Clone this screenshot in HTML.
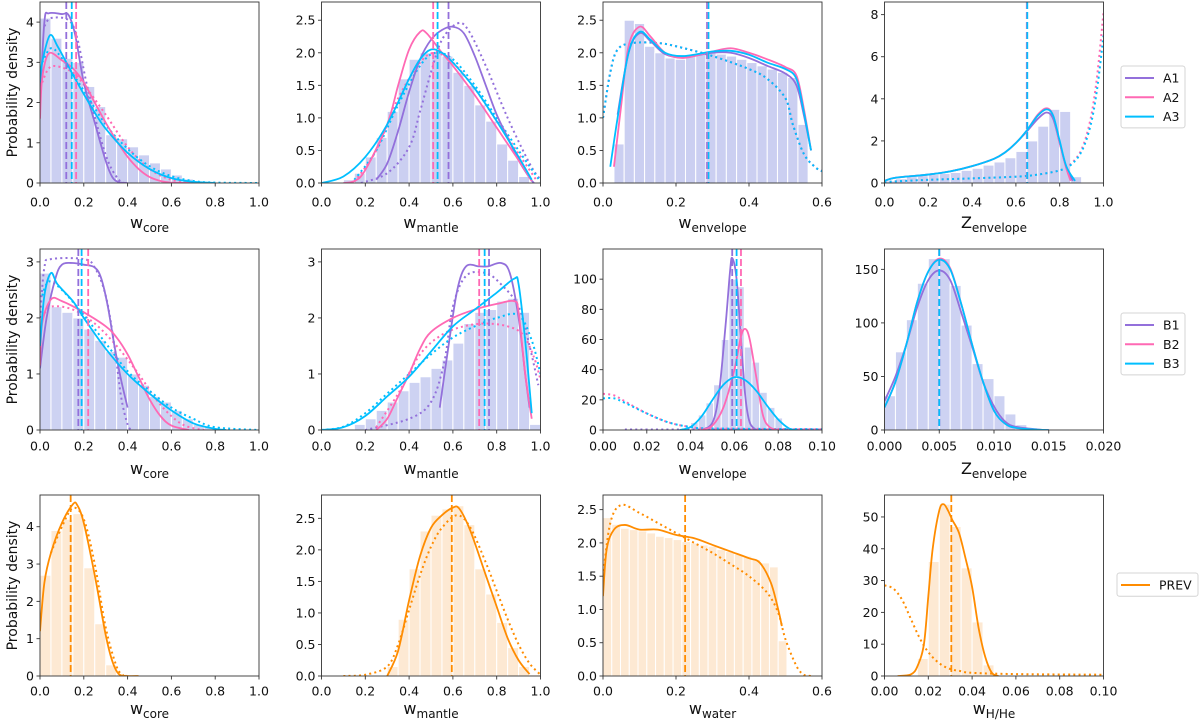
<!DOCTYPE html>
<html><head><meta charset="utf-8">
<style>
body{margin:0;background:#fff;}
svg{display:block;font-family:"DejaVu Sans","Liberation Sans",sans-serif;}
</style></head>
<body>
<svg id="fig" width="1200" height="722" viewBox="0 0 1200 722"></svg>
<script>
// ---------- DATA ----------
// Panel 1: w_core (A)
const p1_A1=[[0,2.0],[0.02,4.0],[0.04,4.22],[0.1,4.2],[0.13,4.18],[0.16,3.7],[0.2,2.5],[0.25,1.5],[0.3,0.55],[0.33,0.15],[0.36,0.02],[0.4,0]];
const p1_A1d=[[0.02,3.9],[0.05,4.1],[0.13,4.05],[0.17,3.6],[0.22,2.3],[0.3,0.7],[0.36,0.08],[0.4,0]];
const p1_A2=[[0,1.6],[0.01,2.6],[0.04,3.22],[0.1,3.05],[0.15,2.85],[0.2,2.5],[0.25,2.0],[0.3,1.5],[0.35,1.05],[0.4,0.65],[0.45,0.35],[0.5,0.15],[0.55,0.05],[0.6,0.01],[0.7,0]];
const p1_A2d=[[0.01,2.5],[0.04,2.85],[0.08,2.9],[0.15,2.75],[0.2,2.45],[0.3,1.7],[0.4,0.9],[0.5,0.35],[0.6,0.08],[0.7,0.01]];
const p1_A3=[[0,2.5],[0.01,3.0],[0.045,3.67],[0.08,3.4],[0.12,3.0],[0.18,2.4],[0.25,1.75],[0.3,1.35],[0.4,0.75],[0.5,0.35],[0.6,0.12],[0.7,0.03],[0.8,0]];
const p1_A3d=[[0.01,3.0],[0.05,3.35],[0.1,3.1],[0.2,2.3],[0.3,1.45],[0.4,0.85],[0.5,0.42],[0.6,0.17],[0.7,0.05],[0.8,0.01],[1,0]];
const p1_med=[0.12,0.165,0.145];
const p1_hist=[4.1,3.6,3.1,3.0,2.4,1.9,1.2,1.1,0.9,0.7,0.5,0.35,0.2,0.1,0.05,0.02,0,0,0,0];
// Panel 2: w_mantle (A)
const p2_A1=[[0.25,0.05],[0.3,0.3],[0.35,0.8],[0.4,1.4],[0.45,1.9],[0.5,2.2],[0.55,2.35],[0.6,2.4],[0.65,2.3],[0.7,1.95],[0.75,1.5],[0.8,1.05],[0.85,0.7],[0.9,0.35],[0.95,0.08],[0.97,0]];
const p2_A1d=[[0.18,0],[0.3,0.15],[0.4,0.55],[0.45,1.1],[0.5,1.7],[0.55,2.2],[0.62,2.45],[0.67,2.35],[0.75,1.8],[0.85,1.0],[0.95,0.3],[1.0,0.05]];
const p2_A2=[[0.1,0],[0.15,0.03],[0.2,0.2],[0.3,0.9],[0.35,1.5],[0.4,2.05],[0.45,2.32],[0.48,2.3],[0.55,2.0],[0.6,1.8],[0.7,1.35],[0.8,0.85],[0.9,0.35],[0.96,0.03]];
const p2_A2d=[[0.15,0.02],[0.25,0.5],[0.35,1.3],[0.45,1.85],[0.52,2.0],[0.6,1.85],[0.7,1.45],[0.8,0.95],[0.9,0.45],[0.98,0.05]];
const p2_A3=[[0,0],[0.1,0.1],[0.2,0.4],[0.3,0.9],[0.4,1.6],[0.45,1.9],[0.5,2.05],[0.55,2.0],[0.6,1.85],[0.7,1.45],[0.8,0.95],[0.9,0.4],[0.96,0.05]];
const p2_A3d=[[0.15,0.05],[0.25,0.5],[0.35,1.2],[0.45,1.8],[0.52,2.0],[0.6,1.9],[0.7,1.5],[0.8,1.0],[0.9,0.5],[1.0,0.02]];
const p2_med=[0.58,0.51,0.53];
const p2_hist=[0,0,0.05,0.15,0.4,0.7,1.1,1.6,1.9,2.0,2.0,1.95,1.7,1.5,1.2,0.95,0.6,0.35,0.1,0];
// Panel 3: w_envelope (A)
const p3_A1=[[0.04,1.05],[0.07,2.0],[0.1,2.3],[0.13,2.18],[0.17,1.98],[0.22,1.93],[0.3,2.0],[0.35,2.0],[0.4,1.92],[0.45,1.8],[0.5,1.68],[0.53,1.5],[0.55,1.05],[0.57,0.5]];
const p3_A2=[[0.03,0.25],[0.05,1.2],[0.07,2.1],[0.1,2.4],[0.13,2.25],[0.17,2.0],[0.22,1.92],[0.3,2.02],[0.35,2.07],[0.4,2.0],[0.45,1.9],[0.5,1.78],[0.53,1.65],[0.55,1.15],[0.57,0.5]];
const p3_A3=[[0.02,0.25],[0.04,1.0],[0.07,2.0],[0.1,2.32],[0.13,2.2],[0.17,2.0],[0.22,1.95],[0.3,2.02],[0.35,2.03],[0.4,1.97],[0.45,1.85],[0.5,1.75],[0.53,1.6],[0.55,1.1],[0.57,0.5]];
const p3_prior=[[0,1.0],[0.02,1.7],[0.04,2.05],[0.08,2.15],[0.15,2.15],[0.2,2.1],[0.3,1.95],[0.4,1.75],[0.45,1.6],[0.5,1.3],[0.52,0.9],[0.55,0.45],[0.58,0.25],[0.6,0.18]];
const p3_med=[0.285,0.287,0.289];
const p3_hist=[0.6,2.5,2.45,2.1,2.0,1.92,1.9,1.95,2.0,2.0,1.98,1.95,1.9,1.85,1.8,1.75,1.7,1.62,0.9];
// Panel 4: Z_envelope (A)
const p4_A1=[[0,0.1],[0.05,0.25],[0.2,0.4],[0.3,0.55],[0.4,0.8],[0.5,1.15],[0.55,1.45],[0.6,1.9],[0.65,2.45],[0.7,3.05],[0.74,3.35],[0.77,3.05],[0.8,1.9],[0.83,0.75],[0.86,0.1]];
const p4_A2=[[0,0.1],[0.05,0.25],[0.2,0.4],[0.3,0.55],[0.4,0.8],[0.5,1.15],[0.55,1.45],[0.6,1.9],[0.65,2.5],[0.7,3.25],[0.74,3.55],[0.77,3.2],[0.8,1.9],[0.83,0.7],[0.85,0.1]];
const p4_A3=[[0,0.1],[0.05,0.25],[0.2,0.4],[0.3,0.55],[0.4,0.8],[0.5,1.15],[0.55,1.45],[0.6,1.9],[0.65,2.5],[0.7,3.2],[0.74,3.5],[0.77,3.2],[0.8,2.0],[0.83,0.8],[0.87,0.1]];
const p4_A2d=[[0,0.05],[0.2,0.15],[0.4,0.22],[0.6,0.3],[0.7,0.4],[0.8,0.6],[0.85,0.9],[0.9,1.6],[0.94,3.0],[0.97,5.0],[1.0,8.1]];
const p4_A3d=[[0,0.05],[0.2,0.15],[0.4,0.22],[0.6,0.3],[0.7,0.4],[0.8,0.6],[0.85,0.85],[0.9,1.5],[0.94,2.7],[0.97,4.4],[1.0,7.0]];
const p4_med=[0.65,0.65,0.652];
const p4_hist=[0.1,0.2,0.3,0.35,0.4,0.45,0.5,0.6,0.7,0.85,1.0,1.2,1.5,2.0,2.7,3.5,3.4,0.3,0,0];
// Panel 5: w_core (B)
const p5_B1=[[0,1.1],[0.03,2.0],[0.07,2.7],[0.1,2.95],[0.15,2.98],[0.2,2.95],[0.25,2.9],[0.28,2.7],[0.31,2.2],[0.34,1.5],[0.37,0.9],[0.4,0.4]];
const p5_B1d=[[0,2.0],[0.02,2.9],[0.05,3.05],[0.2,3.05],[0.25,2.9],[0.3,2.4],[0.34,1.5],[0.37,0.6],[0.4,0.1],[0.42,0]];
const p5_B2=[[0,1.15],[0.01,1.9],[0.05,2.33],[0.1,2.3],[0.2,2.1],[0.3,1.85],[0.35,1.65],[0.4,1.35],[0.45,0.95],[0.5,0.55],[0.55,0.25],[0.6,0.08],[0.68,0]];
const p5_B2d=[[0.01,2.0],[0.05,2.2],[0.15,2.15],[0.25,1.9],[0.35,1.5],[0.45,1.0],[0.55,0.45],[0.65,0.1],[0.75,0]];
const p5_B3=[[0,1.5],[0.02,2.4],[0.05,2.8],[0.08,2.6],[0.15,2.3],[0.2,2.0],[0.3,1.45],[0.4,1.0],[0.5,0.65],[0.6,0.35],[0.7,0.12],[0.8,0.02],[0.85,0]];
const p5_B3d=[[0.01,2.4],[0.04,2.65],[0.1,2.5],[0.2,2.05],[0.3,1.55],[0.4,1.05],[0.5,0.7],[0.6,0.4],[0.7,0.2],[0.8,0.05],[1,0]];
const p5_med=[0.175,0.22,0.19];
const p5_hist=[2.8,2.2,2.1,2.0,1.8,1.6,1.4,1.3,1.0,0.8,0.6,0.5,0.35,0.2,0.1,0.05,0,0,0,0];
// Panel 6: w_mantle (B)
const p6_B1=[[0.54,0.4],[0.58,1.5],[0.62,2.5],[0.66,2.92],[0.72,2.92],[0.76,2.92],[0.82,2.98],[0.86,2.8],[0.9,2.0],[0.93,1.0],[0.95,0.4]];
const p6_B1d=[[0.2,0],[0.4,0.2],[0.5,0.5],[0.56,1.2],[0.6,2.2],[0.66,2.75],[0.75,2.8],[0.82,2.6],[0.9,2.2],[0.95,1.5],[0.99,0.8]];
const p6_B2=[[0.25,0],[0.3,0.2],[0.35,0.6],[0.4,1.0],[0.45,1.45],[0.5,1.75],[0.6,2.0],[0.7,2.15],[0.8,2.25],[0.88,2.3],[0.9,2.1],[0.93,1.0],[0.96,0.2]];
const p6_B2d=[[0.25,0.05],[0.35,0.65],[0.45,1.35],[0.55,1.7],[0.65,1.85],[0.75,1.9],[0.85,1.85],[0.92,1.7],[0.97,1.3],[1.0,0.9]];
const p6_B3=[[0,0],[0.1,0.05],[0.2,0.25],[0.3,0.6],[0.4,0.95],[0.5,1.4],[0.6,1.85],[0.7,2.15],[0.8,2.45],[0.88,2.7],[0.9,2.6],[0.93,1.6],[0.96,0.3]];
const p6_B3d=[[0,0],[0.1,0.06],[0.2,0.3],[0.3,0.65],[0.4,1.0],[0.5,1.35],[0.6,1.65],[0.7,1.85],[0.8,2.0],[0.9,2.05],[0.96,1.6],[1.0,1.0]];
const p6_med=[0.765,0.72,0.745];
const p6_hist=[0,0,0.02,0.1,0.2,0.35,0.5,0.7,0.85,0.95,1.1,1.25,1.55,1.9,2.1,2.15,2.3,2.35,2.1,0.1];
// Panel 7: w_envelope (B)
const p7_B1=[[0.045,0],[0.05,5],[0.053,25],[0.056,70],[0.058,105],[0.059,114],[0.061,100],[0.063,60],[0.065,22],[0.067,5],[0.07,0]];
const p7_B1d=[[0.01,0.3],[0.05,0.3],[0.1,0.3]];
const p7_B2=[[0.045,0],[0.05,3],[0.055,15],[0.06,40],[0.063,62],[0.065,67],[0.067,60],[0.07,35],[0.073,10],[0.076,2],[0.08,0]];
const p7_B2d=[[0,24],[0.005,23],[0.01,19],[0.02,11],[0.03,5],[0.04,2],[0.05,1],[0.1,0.5]];
const p7_B3=[[0.035,0],[0.04,2],[0.045,9],[0.05,20],[0.055,30],[0.06,35],[0.065,33],[0.07,26],[0.075,16],[0.08,7],[0.085,1],[0.088,0]];
const p7_B3d=[[0,21],[0.005,21],[0.01,18],[0.02,11],[0.03,5],[0.04,2],[0.05,1],[0.1,0.5]];
const p7_med=[0.059,0.063,0.061];
const p7_hist=[5,10,18,30,60,100,95,55,45,25,15,8];
// Panel 8: Z_envelope (B)
const p8_B1=[[0,27],[0.001,50],[0.002,80],[0.003,115],[0.004,140],[0.005,149],[0.006,140],[0.007,110],[0.008,78],[0.009,45],[0.01,22],[0.011,8],[0.012,3],[0.014,0.5],[0.015,0]];
const p8_B2=[[0,21],[0.001,45],[0.002,80],[0.003,120],[0.004,148],[0.005,160],[0.006,151],[0.007,118],[0.008,80],[0.009,45],[0.01,18],[0.011,6],[0.012,2],[0.014,0.3],[0.015,0]];
const p8_B3=[[0,21],[0.001,45],[0.002,80],[0.003,120],[0.004,148],[0.005,159],[0.006,150],[0.007,118],[0.008,80],[0.009,45],[0.01,18],[0.011,6],[0.012,2],[0.014,0.3],[0.015,0]];
const p8_med=[0.005,0.005,0.005];
const p8_hist=[32,73,103,137,160,160,135,98,62,48,32,15,5,2,0];
// Panel 9-12: PREV
const p9_P=[[0,1.2],[0.02,2.5],[0.05,3.3],[0.1,4.1],[0.15,4.6],[0.17,4.58],[0.2,4.1],[0.25,2.7],[0.3,1.1],[0.33,0.4],[0.36,0.05],[0.4,0],[0.45,0]];
const p9_Pd=[[0.05,3.3],[0.1,4.0],[0.15,4.5],[0.2,4.2],[0.25,3.0],[0.3,1.3],[0.35,0.25],[0.38,0.02]];
const p9_med=[0.14];
const p9_hist=[2.7,3.9,4.2,4.35,2.9,1.4,0.3,0.05];
const p10_P=[[0.3,0],[0.35,0.4],[0.4,1.2],[0.45,1.9],[0.5,2.35],[0.55,2.55],[0.6,2.67],[0.63,2.65],[0.68,2.3],[0.75,1.6],[0.8,1.1],[0.85,0.6],[0.9,0.25],[0.95,0.03]];
const p10_Pd=[[0.1,0],[0.2,0.02],[0.3,0.15],[0.35,0.5],[0.4,1.05],[0.45,1.6],[0.5,2.05],[0.55,2.35],[0.62,2.55],[0.68,2.35],[0.75,1.8],[0.8,1.35],[0.85,0.9],[0.9,0.5],[0.95,0.2],[1.0,0.02]];
const p10_med=[0.595];
const p10_hist=[0.15,0.9,1.7,2.3,2.55,2.65,2.7,2.4,1.7,1.3,0.85,0.45,0.15,0.02];
const p11_P=[[0,1.2],[0.01,1.9],[0.03,2.2],[0.06,2.27],[0.1,2.2],[0.15,2.2],[0.2,2.12],[0.25,2.07],[0.3,1.97],[0.35,1.87],[0.4,1.77],[0.43,1.7],[0.46,1.4],[0.48,1.0],[0.49,0.75]];
const p11_Pd=[[0,1.5],[0.02,2.3],[0.05,2.57],[0.1,2.45],[0.15,2.3],[0.2,2.15],[0.25,2.0],[0.3,1.85],[0.35,1.68],[0.4,1.5],[0.45,1.25],[0.48,0.95],[0.5,0.55],[0.53,0.15],[0.55,0.02],[0.57,0]];
const p11_med=[0.225];
const p11_hist=[2.38,2.28,2.22,2.2,2.18,2.15,2.1,2.08,2.05,2.02,2.0,1.97,1.95,1.9,1.87,1.83,1.8,1.75,1.7,1.64,0.53];
const p12_P=[[0.006,0],[0.012,0.5],[0.015,3],[0.018,10],[0.02,25],[0.022,40],[0.025,52],[0.027,54],[0.029,52],[0.031,49],[0.034,45],[0.037,37],[0.04,28],[0.043,15],[0.046,6],[0.049,1],[0.052,0]];
const p12_Pd=[[0,28.5],[0.004,27.5],[0.008,24],[0.012,18],[0.016,12],[0.02,7.5],[0.025,4],[0.03,2.2],[0.035,1.5],[0.04,1],[0.06,0.6],[0.1,0.4]];
const p12_med=[0.0305];
const p12_hist=[5.5,36,54,47,34,17,3.5];
// tick labels
const xt_unit=["0.0","0.2","0.4","0.6","0.8","1.0"];
const xt_env=["0.0","0.2","0.4","0.6"];
const xt_small=["0.00","0.02","0.04","0.06","0.08","0.10"];
const xt_z=["0.000","0.005","0.010","0.015","0.020"];
const yt_p1=["0","1","2","3","4"];
const yt_half=["0.0","0.5","1.0","1.5","2.0","2.5"];
const yt_p4=["0","2","4","6","8"];
const yt_p5=["0","1","2","3"];
const yt_p7=["0","20","40","60","80","100"];
const yt_p8=["0","50","100","150"];
const yt_p12=["0","10","20","30","40","50"];
const seriesA=["A1","A2","A3"], seriesB=["B1","B2","B3"], seriesP=["PREV"];

// ---------- STYLE / LAYOUT ----------
const COL=["#9370db","#ff69b4","#00bfff"], ORANGE="#ff8c00";
const colX=[40,321.5,603,884.5], W=219;
const rowY=[2,249,495], H=181;
const tickLblDy=[19,16,15], xlabDy=[40,39,33];
const svg=document.getElementById('fig');
const NS="http://www.w3.org/2000/svg";
function el(tag,attrs,parent){const e=document.createElementNS(NS,tag);for(const k in attrs)e.setAttribute(k,attrs[k]);(parent||svg).appendChild(e);return e;}
function smooth(pts){
  let d="M"+pts[0][0].toFixed(2)+","+pts[0][1].toFixed(2);
  for(let i=0;i<pts.length-1;i++){
    const p0=pts[Math.max(0,i-1)],p1=pts[i],p2=pts[i+1],p3=pts[Math.min(pts.length-1,i+2)];
    const c1=[p1[0]+(p2[0]-p0[0])/6,p1[1]+(p2[1]-p0[1])/6];
    const c2=[p2[0]-(p3[0]-p1[0])/6,p2[1]-(p3[1]-p1[1])/6];
    d+="C"+c1[0].toFixed(2)+","+c1[1].toFixed(2)+" "+c2[0].toFixed(2)+","+c2[1].toFixed(2)+" "+p2[0].toFixed(2)+","+p2[1].toFixed(2);
  }
  return d;
}
const panels=[
 {r:0,c:0,xl:[0,1],yl:[0,4.5],xt:xt_unit,yt:yt_p1,lab:["w","core"],hist:p1_hist,h0:0,hw:0.05,fill:"#cbcff1",sol:[p1_A1,p1_A2,p1_A3],dot:[p1_A1d,p1_A2d,p1_A3d],med:p1_med,cols:COL,names:seriesA},
 {r:0,c:1,xl:[0,1],yl:[0,2.78],xt:xt_unit,yt:yt_half,lab:["w","mantle"],hist:p2_hist,h0:0,hw:0.05,fill:"#cbcff1",sol:[p2_A1,p2_A2,p2_A3],dot:[p2_A1d,p2_A2d,p2_A3d],med:p2_med,cols:COL,names:seriesA},
 {r:0,c:2,xl:[0,0.6],yl:[0,2.78],xt:xt_env,yt:yt_half,lab:["w","envelope"],hist:p3_hist,h0:0.03,hw:0.028,fill:"#cbcff1",sol:[p3_A1,p3_A2,p3_A3],dot:[p3_prior,p3_prior,p3_prior],med:p3_med,cols:COL,names:seriesA},
 {r:0,c:3,xl:[0,1],yl:[0,8.6],xt:xt_unit,yt:yt_p4,lab:["Z","envelope"],hist:p4_hist,h0:0,hw:0.05,fill:"#cbcff1",sol:[p4_A1,p4_A2,p4_A3],dot:[null,p4_A2d,p4_A3d],med:p4_med,cols:COL,names:seriesA},
 {r:1,c:0,xl:[0,1],yl:[0,3.23],xt:xt_unit,yt:yt_p5,lab:["w","core"],hist:p5_hist,h0:0,hw:0.05,fill:"#cdd2f2",sol:[p5_B1,p5_B2,p5_B3],dot:[p5_B1d,p5_B2d,p5_B3d],med:p5_med,cols:COL,names:seriesB},
 {r:1,c:1,xl:[0,1],yl:[0,3.23],xt:xt_unit,yt:yt_p5,lab:["w","mantle"],hist:p6_hist,h0:0,hw:0.05,fill:"#cdd2f2",sol:[p6_B1,p6_B2,p6_B3],dot:[p6_B1d,p6_B2d,p6_B3d],med:p6_med,cols:COL,names:seriesB},
 {r:1,c:2,xl:[0,0.1],yl:[0,120],xt:xt_small,yt:yt_p7,lab:["w","envelope"],hist:p7_hist,h0:0.04,hw:0.0035,fill:"#cdd2f2",sol:[p7_B1,p7_B2,p7_B3],dot:[p7_B1d,p7_B2d,p7_B3d],med:p7_med,cols:COL,names:seriesB},
 {r:1,c:3,xl:[0,0.02],yl:[0,169],xt:xt_z,yt:yt_p8,lab:["Z","envelope"],hist:p8_hist,h0:0,hw:0.001,fill:"#cdd2f2",sol:[p8_B1,p8_B2,p8_B3],dot:[null,null,null],med:p8_med,cols:COL,names:seriesB},
 {r:2,c:0,xl:[0,1],yl:[0,4.85],xt:xt_unit,yt:yt_p1,lab:["w","core"],hist:p9_hist,h0:0,hw:0.05,fill:"#fde9d3",sol:[p9_P],dot:[p9_Pd],med:p9_med,cols:[ORANGE],names:seriesP},
 {r:2,c:1,xl:[0,1],yl:[0,2.87],xt:xt_unit,yt:yt_half,lab:["w","mantle"],hist:p10_hist,h0:0.3,hw:0.05,fill:"#fde9d3",sol:[p10_P],dot:[p10_Pd],med:p10_med,cols:[ORANGE],names:seriesP},
 {r:2,c:2,xl:[0,0.6],yl:[0,2.72],xt:xt_env,yt:yt_half,lab:["w","water"],hist:p11_hist,h0:0,hw:0.024,fill:"#fde9d3",sol:[p11_P],dot:[p11_Pd],med:p11_med,cols:[ORANGE],names:seriesP},
 {r:2,c:3,xl:[0,0.1],yl:[0,56.9],xt:xt_small,yt:yt_p12,lab:["w","H/He"],hist:p12_hist,h0:0.015,hw:0.005,fill:"#fde9d3",sol:[p12_P],dot:[p12_Pd],med:p12_med,cols:[ORANGE],names:seriesP}
];
panels.forEach((P,pi)=>{
  const x0=colX[P.c], y0=rowY[P.r];
  const sx=v=>x0+(v-P.xl[0])/(P.xl[1]-P.xl[0])*W;
  const sy=v=>y0+H-(v-P.yl[0])/(P.yl[1]-P.yl[0])*H;
  const g=el('g',{});
  
  
  const clipId='clip'+pi;
  const cp=el('clipPath',{id:clipId},g); el('rect',{x:x0,y:y0,width:W,height:H},cp);
  const inner=el('g',{'clip-path':'url(#'+clipId+')'},g);
  // histogram
  P.hist.forEach((h,i)=>{
    if(h<=0)return;
    const a=P.h0+i*P.hw, b=a+P.hw;
    const r=el('rect',{x:sx(a),y:sy(h),width:sx(b)-sx(a),height:sy(0)-sy(h),fill:P.fill,stroke:'#fff','stroke-width':1},inner);
    
    
  });
  // dotted prior curves
  P.dot.forEach((c,i)=>{
    if(!c)return;
    const p=el('path',{d:smooth(c.map(q=>[sx(q[0]),sy(q[1])])),fill:'none',stroke:P.cols[i],'stroke-width':2,'stroke-dasharray':'2 3.2'},inner);
    
    
  });
  // solid posterior curves
  P.sol.forEach((c,i)=>{
    const p=el('path',{d:smooth(c.map(q=>[sx(q[0]),sy(q[1])])),fill:'none',stroke:P.cols[i],'stroke-width':1.8},inner);
    
    
  });
  // medians
  P.med.forEach((m,i)=>{
    const l=el('line',{x1:sx(m),x2:sx(m),y1:y0,y2:y0+H,stroke:P.cols[i],'stroke-width':1.8,'stroke-dasharray':'7 3'},inner);
    
    
  });
  // frame
  const f=el('rect',{x:x0,y:y0,width:W,height:H,fill:'none',stroke:'#333','stroke-width':0.9},g);
  
  
  // x ticks
  P.xt.forEach(t=>{
    const v=parseFloat(t), X=sx(v);
    el('line',{x1:X,x2:X,y1:y0+H,y2:y0+H+3.5,stroke:'#333','stroke-width':0.9},g);
    const tx=el('text',{x:X,y:y0+H+tickLblDy[P.r]+4.5,'font-size':12.5,'text-anchor':'middle',fill:'#111'},g);
    tx.textContent=t;
    
    
  });
  P.yt.forEach(t=>{
    const v=parseFloat(t), Y=sy(v);
    el('line',{x1:x0-3.5,x2:x0,y1:Y,y2:Y,stroke:'#333','stroke-width':0.9},g);
    const tx=el('text',{x:x0-6,y:Y+4.5,'font-size':12.5,'text-anchor':'end',fill:'#111'},g);
    tx.textContent=t;
    
    
  });
  // x label
  const xl=el('text',{x:x0+W/2,y:y0+H+xlabDy[P.r]+5,'font-size':16,'text-anchor':'middle',fill:'#111'},g);
  
  
  const t1=el('tspan',{},xl); t1.textContent=P.lab[0];
  const t2=el('tspan',{'font-size':12,dy:4},xl); t2.textContent=P.lab[1];
  if(P.c===0){
    const yl=el('text',{x:0,y:0,'font-size':14,'text-anchor':'middle',fill:'#111',transform:'translate(17,'+(y0+H/2)+') rotate(-90)'},g);
    yl.textContent='Probability density';
    
    
  }
});
// legends
const legends=[
 {names:seriesA,cols:COL,x:1121,y:66,w:64},
 {names:seriesB,cols:COL,x:1121,y:313,w:64},
 {names:seriesP,cols:[ORANGE],x:1117,y:573,w:81}
];
legends.forEach((L,li)=>{
  const g=el('g',{});
  
  
  const h=L.names.length*19.3+4;
  el('rect',{x:L.x,y:L.y,width:L.w,height:h,rx:2.5,fill:'#fff',stroke:'#d4d4d4','stroke-width':1},g);
  L.names.forEach((n,i)=>{
    const cy=L.y+12+i*19.3;
    const e=el('g',{},g);
    
    
    el('line',{x1:L.x+4,x2:L.x+33,y1:cy,y2:cy,stroke:L.cols[i],'stroke-width':2},e);
    const t=el('text',{x:L.x+42,y:cy+4.5,'font-size':12.5,fill:'#111'},e);
    t.textContent=n;
  });
});
</script>
</body></html>
